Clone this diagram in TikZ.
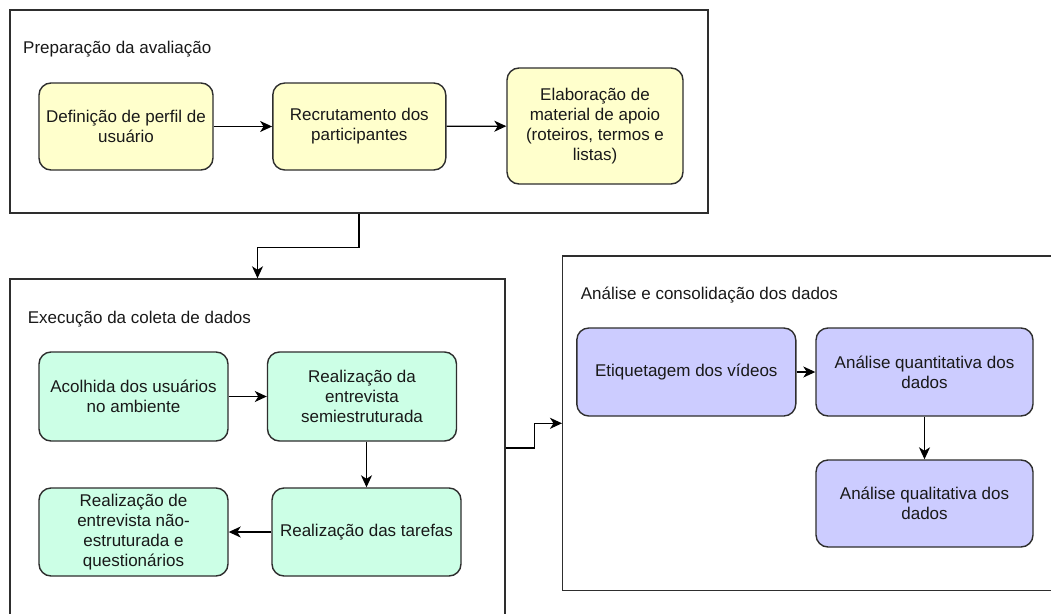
\documentclass[tikz,border=0pt]{standalone}
\usepackage{fontspec}
\setmainfont{Liberation Sans}
\usetikzlibrary{arrows.meta}
\definecolor{yel}{HTML}{FFFFCC}
\definecolor{grn}{HTML}{CCFFE6}
\definecolor{pur}{HTML}{CCCCFF}
\definecolor{edgec}{HTML}{2E2E2E}
\begin{document}
\begin{tikzpicture}[x=1pt,y=-1pt,
  every node/.style={font=\fontsize{17}{20}\selectfont, text=black!90},
  stepbox/.style={draw=edgec, line width=1.4pt, rounded corners=12pt, inner sep=0pt, align=center},
  groupbox/.style={draw=edgec, line width=1.4pt, inner sep=0pt, fill=white},
  title/.style={anchor=base west, inner sep=0pt},
  arr/.style={draw=black, line width=1.3pt, -{Stealth[length=12pt,width=11pt,inset=3.5pt]}},
]
\useasboundingbox (0,0) rectangle (1051,613);
\clip (0,0) rectangle (1051,613);
\fill[white] (0,0) rectangle (1051,613);

% group boxes
\node[groupbox, minimum width=698pt, minimum height=203pt] (g1) at (359,111.5) {};
\node[groupbox, minimum width=495pt, minimum height=338pt] (g2) at (257.5,448) {};
\node[groupbox, minimum width=500pt, minimum height=334.7pt] (g3) at (812.7,423.3) {};

% titles
\node[title] (t1) at (23,53) {Preparação da avaliação};
\node[title] (t2) at (27.7,323) {Execução da coleta de dados};
\node[title] (t3) at (580.7,299) {Análise e consolidação dos dados};

% yellow
\node[stepbox, fill=yel, minimum width=174pt, minimum height=87pt] (a) at (126,126.5) {Definição de perfil de\\usuário};
\node[stepbox, fill=yel, minimum width=173pt, minimum height=87pt] (b) at (359.3,126.5) {Recrutamento dos\\participantes};
\node[stepbox, fill=yel, minimum width=176pt, minimum height=116pt] (c) at (595,126) {Elaboração de\\material de apoio\\(roteiros, termos e\\listas)};

% green
\node[stepbox, fill=grn, minimum width=189pt, minimum height=89pt] (d) at (133.5,396.5) {Acolhida dos usuários\\no ambiente};
\node[stepbox, fill=grn, minimum width=189pt, minimum height=89pt] (e) at (362,396.5) {Realização da\\entrevista\\semiestruturada};
\node[stepbox, fill=grn, minimum width=189pt, minimum height=88pt] (f) at (366.5,532) {Realização das tarefas};
\node[stepbox, fill=grn, minimum width=189pt, minimum height=88pt] (h) at (133.5,532) {Realização de\\entrevista não-\\estruturada e\\questionários};

% purple
\node[stepbox, fill=pur, minimum width=219pt, minimum height=88pt] (p) at (686.3,372) {Etiquetagem dos vídeos};
\node[stepbox, fill=pur, minimum width=217pt, minimum height=88pt] (q) at (924.5,372) {Análise quantitativa dos\\dados};
\node[stepbox, fill=pur, minimum width=217pt, minimum height=87pt] (r) at (924.5,503.5) {Análise qualitativa dos\\dados};

% connectors
\draw[arr] (a) -- (b);
\draw[arr] (b) -- (c);
\draw[arr] (d) -- (e);
\draw[arr] (f.north |- e.south) -- (f.north);
\draw[arr] (f) -- (h);
\draw[arr] (p) -- (q);
\draw[arr] (q) -- (r);
\draw[arr] (g1.south) -- ++(0,33.5) -| (g2.north);
\draw[arr] (g2.east) -- ++(29,0) |- (g3.west);
\end{tikzpicture}
\end{document}
